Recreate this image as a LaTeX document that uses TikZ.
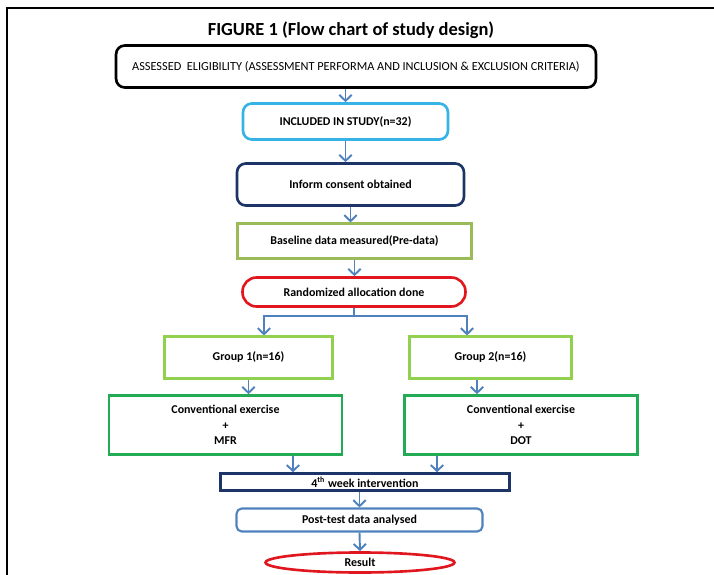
\documentclass[tikz,border=0pt]{standalone}
\usepackage{fontspec}
\setmainfont{Carlito}
\usetikzlibrary{arrows.meta, positioning, shapes.geometric}
\definecolor{cblue}{HTML}{4F81BD}
\definecolor{ccyan}{HTML}{35B3E6}
\definecolor{cnavy}{HTML}{1C3566}
\definecolor{colive}{HTML}{9BBB59}
\definecolor{clime}{HTML}{92D050}
\definecolor{cgreen}{HTML}{22AA55}
\definecolor{cred}{HTML}{E0171F}
\tikzset{
  every picture/.style={font=\bfseries\fontsize{6.8}{8}\selectfont},
  box/.style={draw=#1, line width=1.5pt, align=center, inner sep=2pt},
  box/.default=black,
  rbox/.style={box=#1, rounded corners=5pt},
  arrow/.style={-{Straight Barb[length=3.4pt, width=7pt]}, draw=cblue, line width=1.1pt},
  link/.style={draw=cblue, line width=1.1pt},
  title/.style={font=\bfseries\fontsize{10.5}{12}\selectfont},
}
\begin{document}
\begin{tikzpicture}[x=0.02cm, y=-0.02cm]
  \useasboundingbox (0,0) rectangle (714,575);
  \draw[line width=1pt] (7,575) -- (7,8) -- (714,8);
  \node[title] (head) at (351,30) {FIGURE 1 (Flow chart of study design)};
  \node[rbox=black, minimum width=9.6cm, minimum height=0.84cm, font=\mdseries\fontsize{7}{8}\selectfont] (elig) at (356,66.5) {ASSESSED \ ELIGIBILITY (ASSESSMENT PERFORMA AND INCLUSION \& EXCLUSION CRITERIA)};
  \node[rbox=ccyan, minimum width=4.1cm, minimum height=0.72cm] (incl) at (345.5,121.5) {INCLUDED IN STUDY(n=32)};
  \node[rbox=cnavy, minimum width=4.54cm, minimum height=0.84cm] (consent) at (350.5,184.5) {Inform consent obtained};
  \node[box=colive, line width=1.2pt, minimum width=4.68cm, minimum height=0.7cm] (base) at (354.5,241) {Baseline data measured(Pre-data)};
  \node[box=cred, rounded corners=8pt, minimum width=4.46cm, minimum height=0.58cm] (rand) at (354,292) {Randomized allocation done};
  \node[box=clime, line width=1.2pt, minimum width=3.36cm, minimum height=0.84cm] (grpa) at (248.5,357.5) {Group 1(n=16)};
  \node[box=clime, line width=1.2pt, minimum width=3.24cm, minimum height=0.84cm] (grpb) at (490.5,357.5) {Group 2(n=16)};
  \node[box=cgreen, minimum width=4.66cm, minimum height=1.18cm, font=\bfseries\fontsize{6.8}{8.8}\selectfont] (conva) at (225.5,425) {Conventional exercise\\+\\MFR};
  \node[box=cgreen, minimum width=4.66cm, minimum height=1.18cm, font=\bfseries\fontsize{6.8}{8.8}\selectfont] (convb) at (521,425) {Conventional exercise\\+\\DOT};
  \node[box=cnavy, line width=1.3pt, minimum width=5.78cm, minimum height=0.34cm, inner sep=0pt] (week) at (365,482) {4\textsuperscript{\fontsize{4.5}{5}\selectfont th} week intervention};
  \node[rbox=cblue, rounded corners=3pt, line width=1.2pt, minimum width=4.92cm, minimum height=0.46cm, inner sep=0pt] (post) at (359.5,520) {Post-test data analysed};
  \node[ellipse, draw=cred, line width=1.5pt, minimum width=3.78cm, minimum height=0.4cm, inner sep=0pt] (res) at (360,562.5) {Result};
  \coordinate (split) at (354,316);
  \draw[arrow] (incl.north |- elig.south) -- (incl.north);
  \draw[arrow] (incl.south) -- (incl.south |- consent.north);
  \draw[arrow] (consent.south) -- (consent.south |- base.north);
  \draw[arrow] (base.south) -- (base.south |- rand.north);
  \draw[link] (rand.south -| split) -- (split);
  \draw[arrow] (split) -| ([xshift=3.1mm]grpa.north);
  \draw[arrow] (split) -| ([xshift=-4.7mm]grpb.north);
  \draw[arrow] (grpa.south) -- (grpa.south |- conva.north);
  \draw[arrow] ([xshift=-2.7mm]grpb.south) coordinate (bout) -- (bout |- convb.north);
  \draw[arrow] ([xshift=13.5mm]conva.south) coordinate (aout) -- (aout |- week.north);
  \draw[arrow] ([xshift=-16.8mm]convb.south) coordinate (cout) -- (cout |- week.north);
  \draw[arrow] (post.north |- week.south) -- (post.north);
  \draw[arrow] (post.south) -- (res.north);
\end{tikzpicture}
\end{document}
